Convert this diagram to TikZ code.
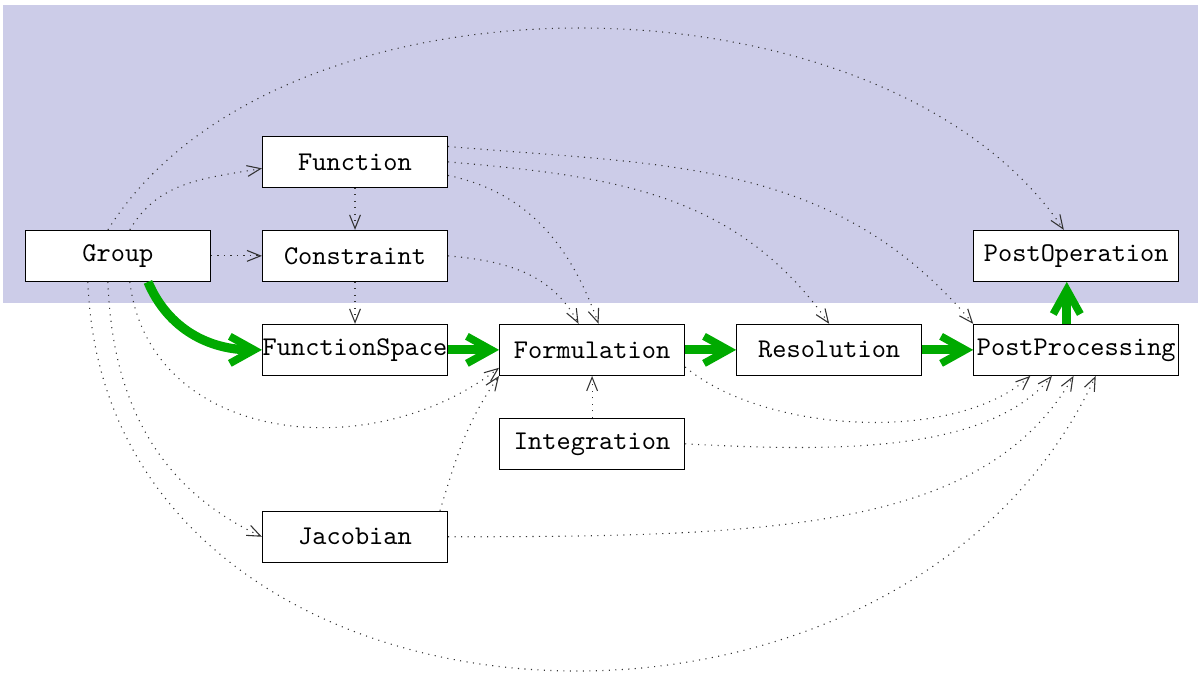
\documentclass[tikz,border=0pt]{standalone}
\usepackage{xcolor}
\usepackage{tikz}
\usetikzlibrary{arrows.meta,positioning}
\definecolor{band}{HTML}{CCCCE8}
\definecolor{flow}{HTML}{00AA00}

\begin{document}
\begin{tikzpicture}[
  font=\ttfamily,
  node distance=15.5pt and 18.85pt,
  box/.style={draw, fill=white, minimum width=68.4pt, minimum height=18.85pt, inner xsep=0pt},
  widebox/.style={box, minimum width=75.8pt},
  dep/.style={dotted, black!80, -{Straight Barb[length=5pt,width=4pt]}},
  main/.style={draw=flow, line width=3.4pt, -{Straight Barb[length=9pt,width=10pt,line width=2.8pt]}}
]
\useasboundingbox (-43.6pt,-156.7pt) rectangle (399.3pt,94.6pt);
\fill[band] (-42.5pt,-17.4pt) rectangle (399.3pt,92.8pt);
\node[box] (group) at (0,0) {Group};
\node[box, right=of group] (constraint) {Constraint};
\node[box, above=of constraint] (function) {Function};
\node[box, below=of constraint] (fspace) {FunctionSpace};
\node[box, right=of fspace] (formulation) {Formulation};
\node[box, right=of formulation] (resolution) {Resolution};
\node[widebox, right=of resolution] (postpro) {PostProcessing};
\node[widebox, above=of postpro] (postop) {PostOperation};
\node[box, below=of formulation] (integration) {Integration};
\node[box, below=49.85pt of fspace] (jacobian) {Jacobian};
\draw[dep] (group) -- (constraint);
\draw[dep] (function) -- (constraint);
\draw[dep] (constraint) -- (fspace);
\draw[dep] (integration) -- (formulation);
\draw[dep] ([xshift=4.4pt]group.north) to[out=60,in=190] ([yshift=-2.4pt]function.west);
\draw[dep] ([xshift=-3.7pt]group.north) to[out=58,in=124,looseness=0.86] ([xshift=-4.6pt]postop.north);
\draw[dep] ([xshift=4.4pt]group.south) to[out=-83,in=218,looseness=1.1] ([yshift=3pt]formulation.south west);
\draw[dep] ([xshift=-3.7pt]group.south) to[out=-88,in=155] (jacobian.west);
\draw[dep] ([xshift=-11.1pt]group.south) to[out=-88,in=245,looseness=1.2] ([xshift=7.2pt]postpro.south);
\draw[dep] ([yshift=5.7pt]function.east) to[out=-5,in=130] (postpro.north west);
\draw[dep] (function.east) to[out=-5,in=125] (resolution.north);
\draw[dep] ([yshift=-5pt]function.east) to[out=-12,in=110] ([xshift=2.4pt]formulation.north);
\draw[dep] (constraint.east) to[out=-5,in=118] ([xshift=-5pt]formulation.north);
\draw[dep] ([yshift=3.3pt]formulation.south east) to[out=-40,in=222,looseness=0.76] ([xshift=-17pt]postpro.south);
\draw[dep] (integration.east) to[out=-3,in=230,out looseness=1,in looseness=0.7] ([xshift=-9pt]postpro.south);
\draw[dep] (jacobian.east) to[out=0,in=240,out looseness=1.3,in looseness=0.7] ([xshift=-1pt]postpro.south);
\draw[dep] ([xshift=-3pt]jacobian.north east) to[out=73,in=235] (formulation.south west);
\draw[main] ([xshift=11.1pt]group.south) to[out=-67,in=180] (fspace.west);
\draw[main] (fspace) -- (formulation);
\draw[main] (formulation) -- (resolution);
\draw[main] (resolution) -- (postpro);
\draw[main] ([xshift=-3.5pt]postpro.north) -- ([xshift=-3.5pt]postop.south);
\end{tikzpicture}
\end{document}
